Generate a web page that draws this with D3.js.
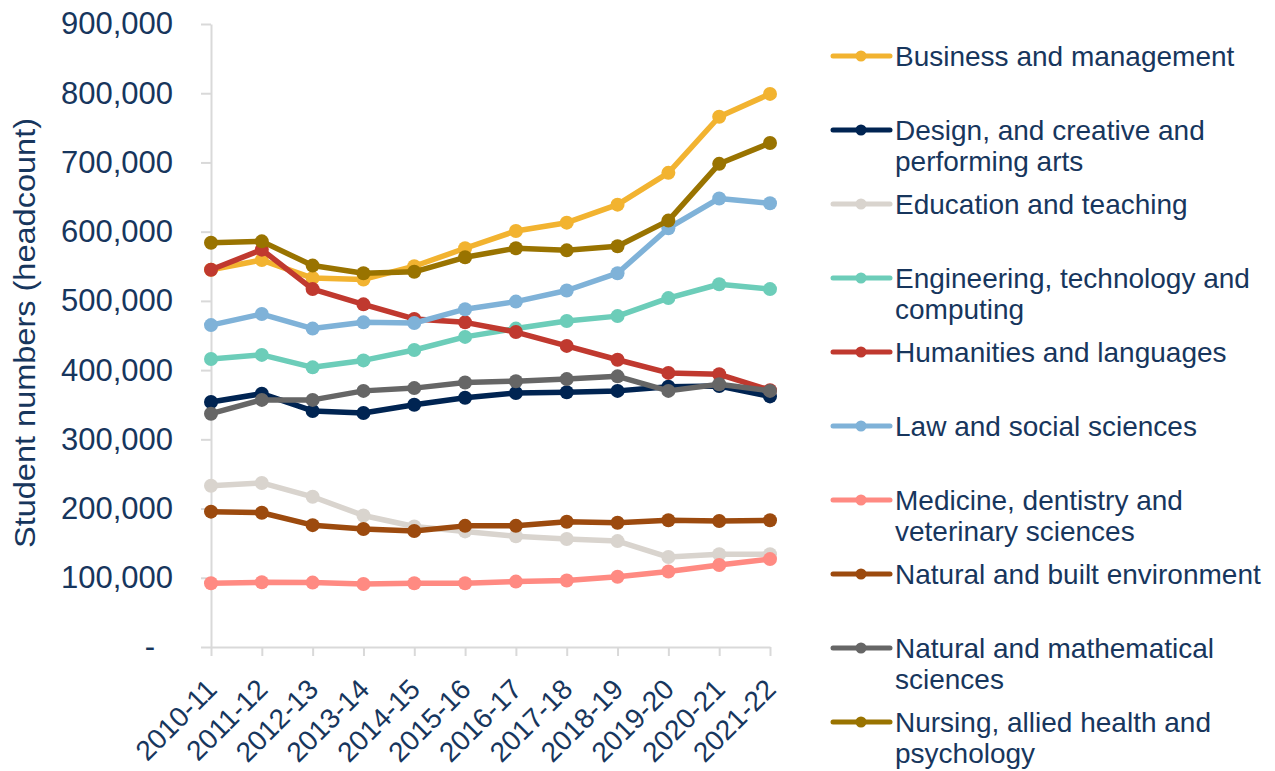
<!DOCTYPE html>
<html>
<head>
<meta charset="utf-8">
<script src="https://cdn.jsdelivr.net/npm/d3@7"></script>
<style>
  body { margin: 0; background: #fff; }
  svg { display: block; font-family: Arial, "Liberation Sans", sans-serif; }
</style>
</head>
<body>
<svg id="chart"></svg>
<script>
// data
const categories = ["2010-11","2011-12","2012-13","2013-14","2014-15","2015-16","2016-17","2017-18","2018-19","2019-20","2020-21","2021-22"]

const business    = [545000, 559000, 533000, 531000, 550000, 576000, 601000, 613000, 639000, 685000, 766000, 799000]
const design      = [354000, 366000, 341000, 338000, 350000, 360000, 367000, 368000, 370000, 376000, 377000, 362000]
const education   = [233000, 237000, 217000, 190000, 174000, 167000, 160000, 156000, 153000, 130000, 134000, 134000]
const engineering = [416000, 422000, 404000, 414000, 429000, 448000, 460000, 471000, 478000, 504000, 524000, 517000]
const humanities  = [545000, 574000, 517000, 495000, 474000, 469000, 455000, 435000, 415000, 396000, 394000, 371000]
const law         = [465000, 481000, 460000, 469000, 468000, 488000, 499000, 515000, 540000, 605000, 648000, 641000]
const medicine    = [92000, 93500, 93000, 91000, 92000, 92000, 94500, 96000, 101500, 109000, 118500, 127000]
const builtEnv    = [195500, 194000, 176000, 170500, 167500, 175000, 175000, 181000, 179500, 183000, 182000, 183000]
const naturalMath = [337000, 357000, 357000, 370000, 374000, 382000, 384000, 387000, 391000, 370000, 379500, 370000]
const nursing     = [584000, 586000, 551000, 540000, 542000, 563000, 576000, 573000, 579000, 616000, 698000, 728000]

const yTicks = [0, 100000, 200000, 300000, 400000, 500000, 600000, 700000, 800000, 900000]
const yTitle = "Student numbers (headcount)"

const series = [
    { name: ["Business and management"], values: business, color: "#F2B330" },
    { name: ["Design, and creative and", "performing arts"], values: design, color: "#002452" },
    { name: ["Education and teaching"], values: education, color: "#D9D4CE" },
    { name: ["Engineering, technology and", "computing"], values: engineering, color: "#6CCDB9" },
    { name: ["Humanities and languages"], values: humanities, color: "#C0392F" },
    { name: ["Law and social sciences"], values: law, color: "#7FB2D8" },
    { name: ["Medicine, dentistry and", "veterinary sciences"], values: medicine, color: "#FF8A82" },
    { name: ["Natural and built environment"], values: builtEnv, color: "#9C4A0E" },
    { name: ["Natural and mathematical", "sciences"], values: naturalMath, color: "#666666" },
    { name: ["Nursing, allied health and", "psychology"], values: nursing, color: "#997300" }
]

const width = 1275, height = 771
const textColor = "#17365D"
const axisColor = "#D9D9D9"

const svg = d3.select("#chart")
    .attr("width", width)
    .attr("height", height)

// scales
const xScale = d3.scalePoint()
    .domain(categories)
    .range([211, 770])

const yScale = d3.scaleLinear()
    .domain([0, 900000])
    .range([647, 24])

// y axis
function yAxis(g) {
    g.attr("transform", "translate(211,0)")
        .call(d3.axisLeft(yScale).tickValues(yTicks).tickSize(10).tickSizeOuter(0).tickPadding(28)
            .tickFormat(d => d === 0 ? "-" : d3.format(",")(d)))
    g.select(".domain").attr("stroke", axisColor).attr("stroke-width", 2)
    g.selectAll(".tick line").attr("stroke", axisColor).attr("stroke-width", 2)
    g.selectAll(".tick text")
        .attr("fill", textColor)
        .attr("font-size", "31px")
        .attr("dx", d => d === 0 ? -18 : 0)
}
svg.append("g").call(yAxis)

// x axis
function xAxis(g) {
    g.attr("transform", "translate(0,647)")
        .call(d3.axisBottom(xScale).tickSize(9).tickSizeOuter(0))
    g.select(".domain").attr("stroke", axisColor).attr("stroke-width", 2)
    g.selectAll(".tick line").attr("stroke", axisColor).attr("stroke-width", 2)
    g.selectAll(".tick text")
        .attr("fill", textColor)
        .attr("font-size", "28px")
        .attr("text-anchor", "end")
        .attr("y", 0)
        .attr("dy", 0)
        .attr("transform", "translate(7,44) rotate(-45)")
}
svg.append("g").call(xAxis)

// y title
svg.append("text")
    .text(yTitle)
    .attr("fill", textColor)
    .attr("font-size", "29px")
    .attr("font-family", "'Liberation Sans Narrow', Arial, sans-serif")
    .attr("text-anchor", "middle")
    .attr("textLength", 430)
    .attr("lengthAdjust", "spacingAndGlyphs")
    .attr("transform", "translate(35,333) rotate(-90)")

// lines and markers
const line = d3.line()
    .x((d, i) => xScale(categories[i]))
    .y(d => yScale(d))

const plot = svg.append("g")
series.forEach(s => {
    const g = plot.append("g")
    g.append("path")
        .datum(s.values)
        .attr("d", line)
        .attr("fill", "none")
        .attr("stroke", s.color)
        .attr("stroke-width", 5.5)
        .attr("stroke-linejoin", "round")
    g.selectAll("circle")
        .data(s.values)
        .join("circle")
        .attr("cx", (d, i) => xScale(categories[i]))
        .attr("cy", d => yScale(d))
        .attr("r", 7)
        .attr("fill", s.color)
})

// legend
const legend = svg.append("g").attr("transform", "translate(833,56)")
const item = legend.selectAll("g")
    .data(series)
    .join("g")
    .attr("transform", (d, i) => `translate(0,${i * 74})`)
item.append("line")
    .attr("x1", 0).attr("x2", 57)
    .attr("stroke", d => d.color)
    .attr("stroke-width", 5)
    .attr("stroke-linecap", "round")
item.append("circle")
    .attr("cx", 28).attr("r", 5.5)
    .attr("fill", d => d.color)
item.append("text")
    .attr("fill", textColor)
    .attr("font-size", "28px")
    .attr("x", 62)
    .selectAll("tspan")
    .data(d => d.name)
    .join("tspan")
    .attr("x", 62)
    .attr("y", (d, i) => i * 31)
    .attr("dy", "0.36em")
    .text(d => d)
</script>
</body>
</html>
